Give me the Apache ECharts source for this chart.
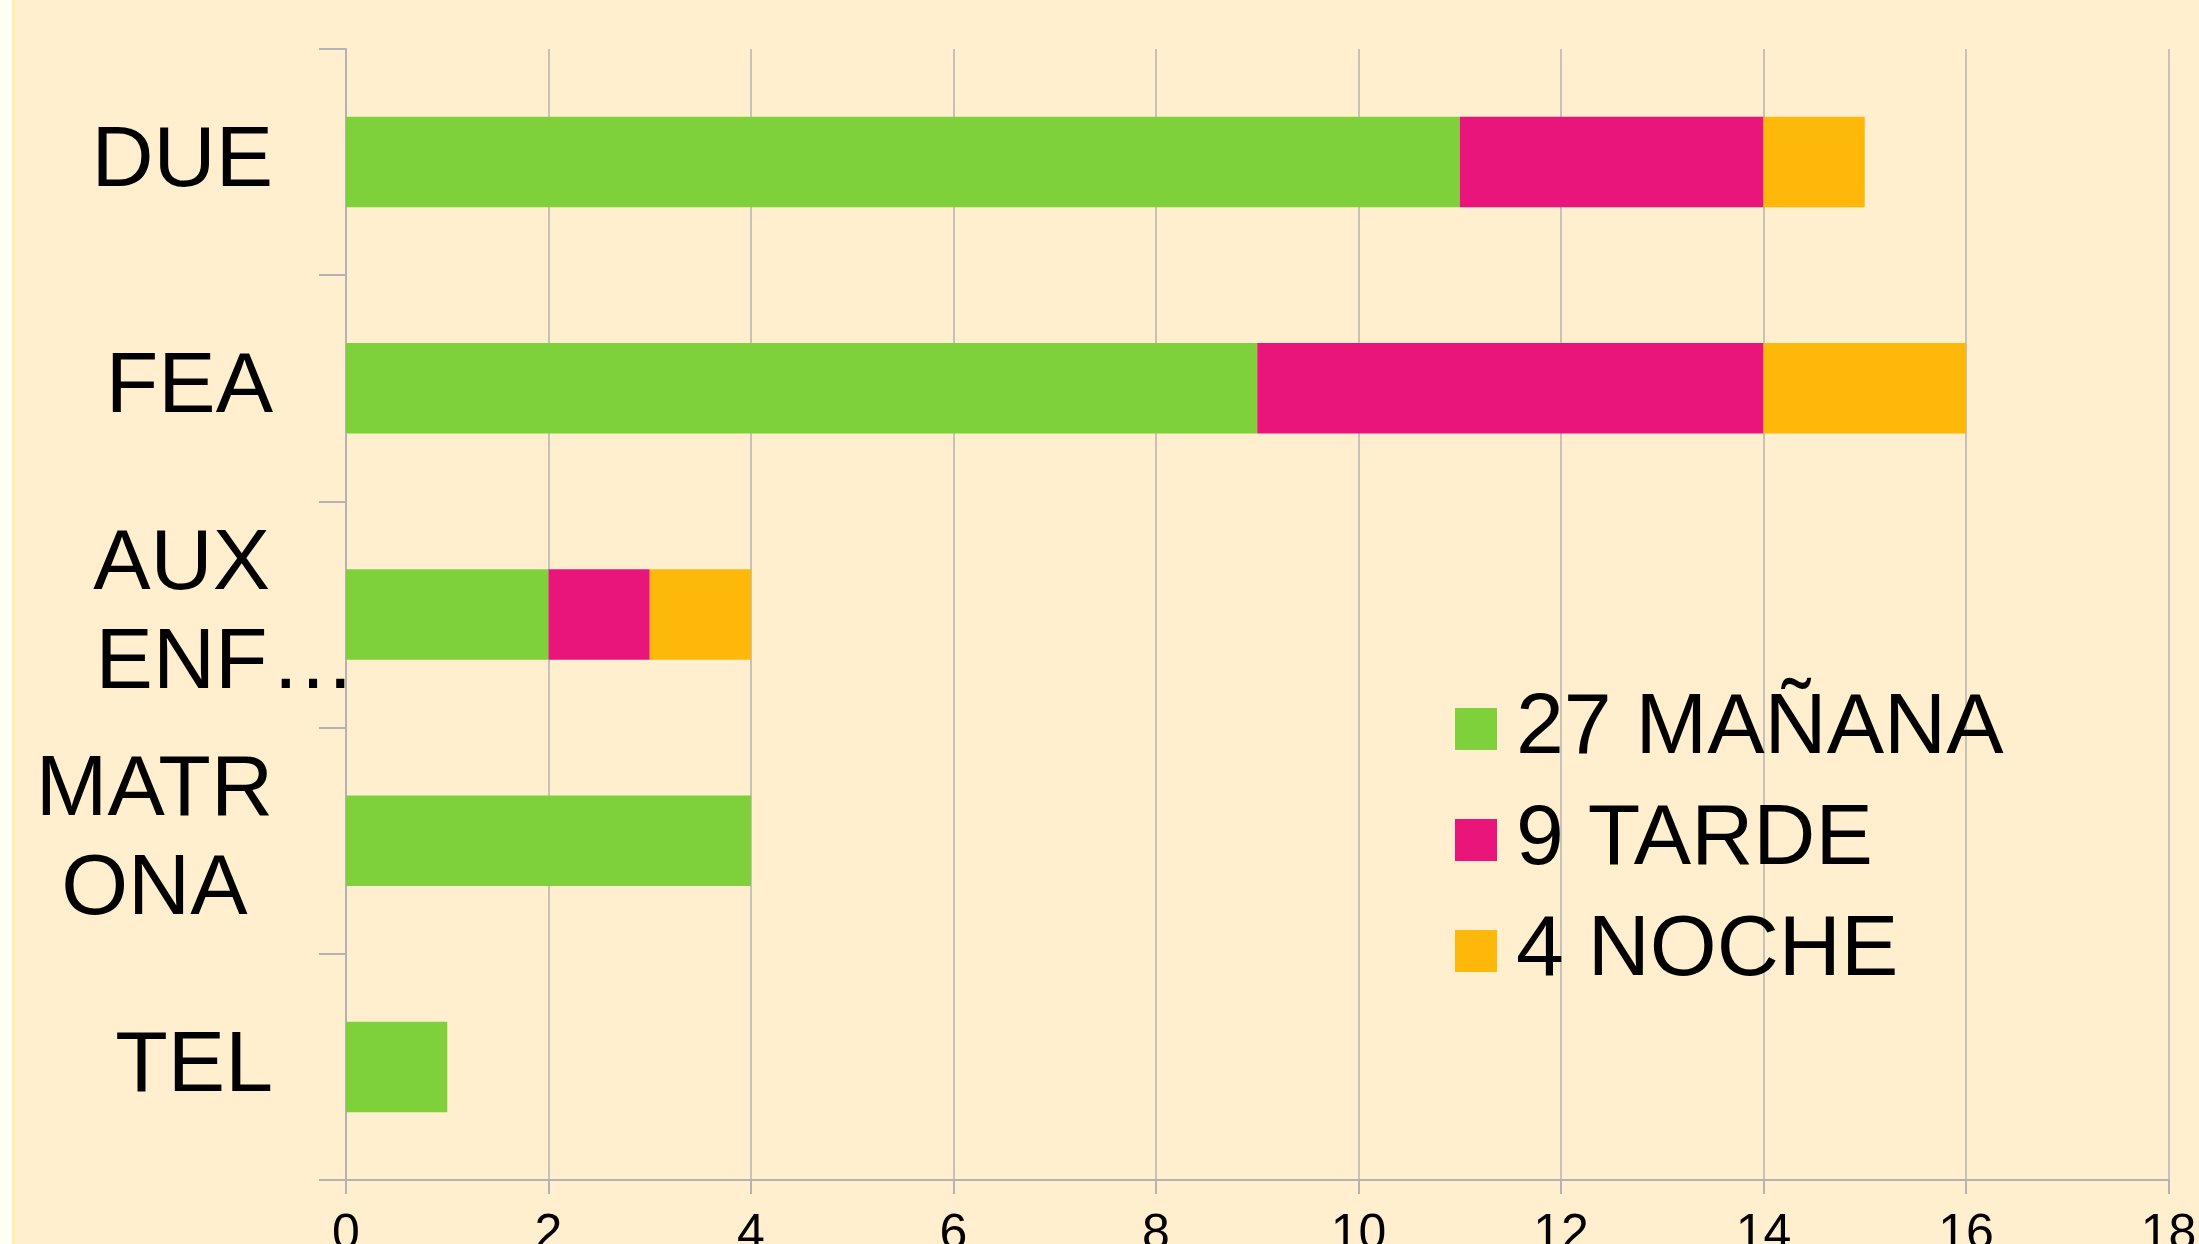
<!DOCTYPE html>
<html>
<head>
<meta charset="utf-8">
<script src="https://cdn.jsdelivr.net/npm/echarts@6/dist/echarts.min.js"></script>
<style>
  html, body { margin: 0; padding: 0; background: #ffefcf; }
  #chart { width: 2199px; height: 1244px; }
</style>
</head>
<body>
<div id="chart"></div>
<script>
// data
const categories = ['DUE', 'FEA', 'AUX\nENF…', 'MATR\nONA', 'TEL'];
const seriesNames = ['27 MAÑANA', '9 TARDE', '4 NOCHE'];
const manana = [11, 9, 2, 4, 1];
const tarde = [3, 5, 1, 0, 0];
const noche = [1, 2, 1, 0, 0];
const xTicks = [0, 18, 2];  // min, max, interval

const colors = ['#7fd13b', '#ea157a', '#feb80a'];
const FONT = '"Liberation Sans", Arial, sans-serif';
const LABEL_SIZE = 86;

// measure text so wrapped labels can be centred inside a right-aligned block
const ctx = document.createElement('canvas').getContext('2d');
ctx.font = LABEL_SIZE + 'px ' + FONT;
const tw = (s) => ctx.measureText(s).width;
const LABEL_MARGIN = -10;
const PAD_R = 83; // extra distance from the axis for normal labels

const rich = {
    s: { fontSize: LABEL_SIZE, fontFamily: FONT, color: '#000', padding: [0, PAD_R, 0, 0], lineHeight: 99 },
    h: { fontSize: LABEL_SIZE, fontFamily: FONT, color: 'rgba(0,0,0,0)', lineHeight: 99 },
    e: { fontSize: LABEL_SIZE, fontFamily: FONT, color: '#000', lineHeight: 99 }
};
let richIdx = 0;
function labelFor(value) {
    const lines = value.split('\n');
    if (lines.length === 1) return '{s|' + value + '}';
    const hasEll = lines.some(l => l.endsWith('…'));
    const bare = lines.map(l => l.replace('…', ''));
    const w = Math.max(...bare.map(tw));
    const key = 'c' + (richIdx++);
    rich[key] = {
        fontSize: LABEL_SIZE, fontFamily: FONT, color: '#000', width: w, align: 'center',
        lineHeight: 99, padding: [0, hasEll ? 0 : PAD_R, 0, 0]
    };
    return lines.map(l => {
        if (!hasEll) return '{' + key + '|' + l + '}';
        if (l.endsWith('…')) return '{' + key + '|' + l.replace('…', '') + '}{e|…}';
        return '{' + key + '|' + l + '}{h|…}';
    }).join('\n');
}
const labelMap = {};
categories.forEach(c => { labelMap[c] = labelFor(c); });

const chart = echarts.init(document.getElementById('chart'));

const makeSeries = (name, data, i) => ({
    name, type: 'bar', stack: 'total', data,
    barWidth: '40%',
    itemStyle: { color: colors[i] },
    emphasis: { disabled: true }
});

chart.setOption({
    backgroundColor: '#ffefcf',
    animation: false,
    textStyle: { fontFamily: FONT },
    grid: { left: 346, top: 49, right: 30.5, bottom: 64, containLabel: false, outerBoundsMode: 'none' },
    legend: {
        orient: 'vertical',
        left: 1450, top: 681,
        itemWidth: 42, itemHeight: 42, itemGap: 25,
        icon: 'rect',
        textStyle: { fontSize: 86, fontFamily: FONT, color: '#000', padding: [0, 0, 0, 14] },
        data: seriesNames
    },
    xAxis: {
        type: 'value',
        min: xTicks[0], max: xTicks[1], interval: xTicks[2],
        axisLine: { show: true, lineStyle: { color: '#b3b3b3', width: 2 } },
        axisTick: { show: true, length: 14, lineStyle: { color: '#b3b3b3', width: 2 } },
        splitLine: { show: true, lineStyle: { color: '#b3b3b3', width: 1.5 } },
        axisLabel: { fontSize: 50, fontFamily: FONT, color: '#000', margin: 30 }
    },
    yAxis: {
        type: 'category',
        inverse: true,
        data: categories,
        axisLine: { show: true, lineStyle: { color: '#b3b3b3', width: 2 } },
        axisTick: { show: true, length: 27, lineStyle: { color: '#b3b3b3', width: 2 } },
        axisLabel: {
            margin: LABEL_MARGIN,
            formatter: (v) => labelMap[v],
            rich
        }
    },
    graphic: [
        { type: 'rect', left: 0, top: 0, shape: { width: 12, height: 1244 }, style: { fill: '#fffff6' }, silent: true },
        { type: 'rect', left: 12, top: 0, shape: { width: 1.5, height: 1244 }, style: { fill: '#fff68f' }, silent: true }
    ],
    series: [
        makeSeries(seriesNames[0], manana, 0),
        makeSeries(seriesNames[1], tarde, 1),
        makeSeries(seriesNames[2], noche, 2)
    ]
});
</script>
</body>
</html>
